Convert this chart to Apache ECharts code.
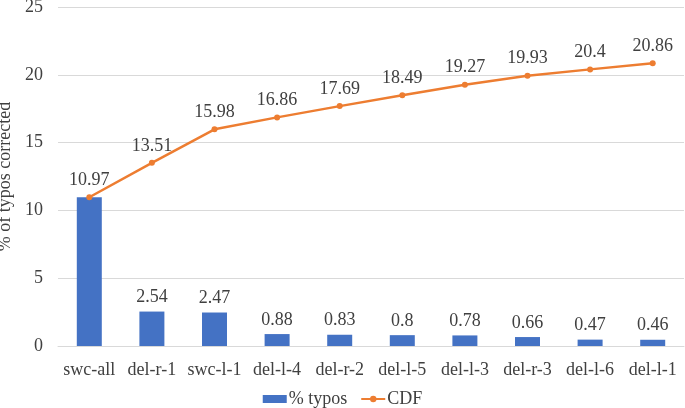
<!DOCTYPE html>
<html><head><meta charset="utf-8">
<script src="https://cdn.jsdelivr.net/npm/echarts@6/dist/echarts.min.js"></script>
<style>html,body{margin:0;padding:0;background:#fff}#c{width:685px;height:408px}</style>
</head><body><div id="c"></div>
<script>
const categories = ['swc-all','del-r-1','swc-l-1','del-l-4','del-r-2','del-l-5','del-l-3','del-r-3','del-l-6','del-l-1'];
const typos = [10.97,2.54,2.47,0.88,0.83,0.8,0.78,0.66,0.47,0.46];
const cdf = [10.97,13.51,15.98,16.86,17.69,18.49,19.27,19.93,20.4,20.86];
const yTicks = [0,5,10,15,20,25];

const font = '"Liberation Serif", "Times New Roman", serif';
const txt = '#404040';
const fs = 18;
const chart = echarts.init(document.getElementById('c'));
chart.setOption({
  animation:false,
  textStyle:{fontFamily:font},
  grid:{left:58,right:1,top:7,bottom:62,containLabel:false,outerBoundsMode:'none'},
  legend:{
    bottom:0, left:'center', padding:0, itemGap:13, itemWidth:24, itemHeight:8,
    textStyle:{fontFamily:font,fontSize:fs,color:txt,padding:[0,0,0,-3]},
    data:[{name:'% typos',icon:'rect'},{name:'CDF'}]
  },
  xAxis:{type:'category',data:categories,
    axisLine:{lineStyle:{color:'#d9d9d9'}},axisTick:{show:false},
    axisLabel:{fontFamily:font,fontSize:fs,color:txt,margin:15,interval:0}},
  yAxis:{type:'value',min:yTicks[0],max:yTicks[yTicks.length-1],interval:5,
    name:'% of typos corrected',nameLocation:'middle',nameGap:38,
    nameTextStyle:{fontFamily:font,fontSize:fs,color:txt},
    axisLine:{show:false},axisTick:{show:false},
    axisLabel:{fontFamily:font,fontSize:fs,color:txt,margin:15},
    splitLine:{lineStyle:{color:'#d9d9d9',width:1}}},
  series:[
    {name:'% typos',type:'bar',barWidth:25,
     itemStyle:{color:'#4472C4'},
     data:typos.map((v,i)=>i===0?{value:v,label:{show:false}}:v),
     label:{show:true,position:'top',distance:5,fontFamily:font,fontSize:fs,color:txt}},
    {name:'CDF',type:'line',data:cdf,symbol:'circle',symbolSize:6,
     lineStyle:{color:'#ED7D31',width:2.5},itemStyle:{color:'#ED7D31'},
     label:{show:true,position:'top',distance:5,fontFamily:font,fontSize:fs,color:txt}}
  ]
});
</script></body></html>
